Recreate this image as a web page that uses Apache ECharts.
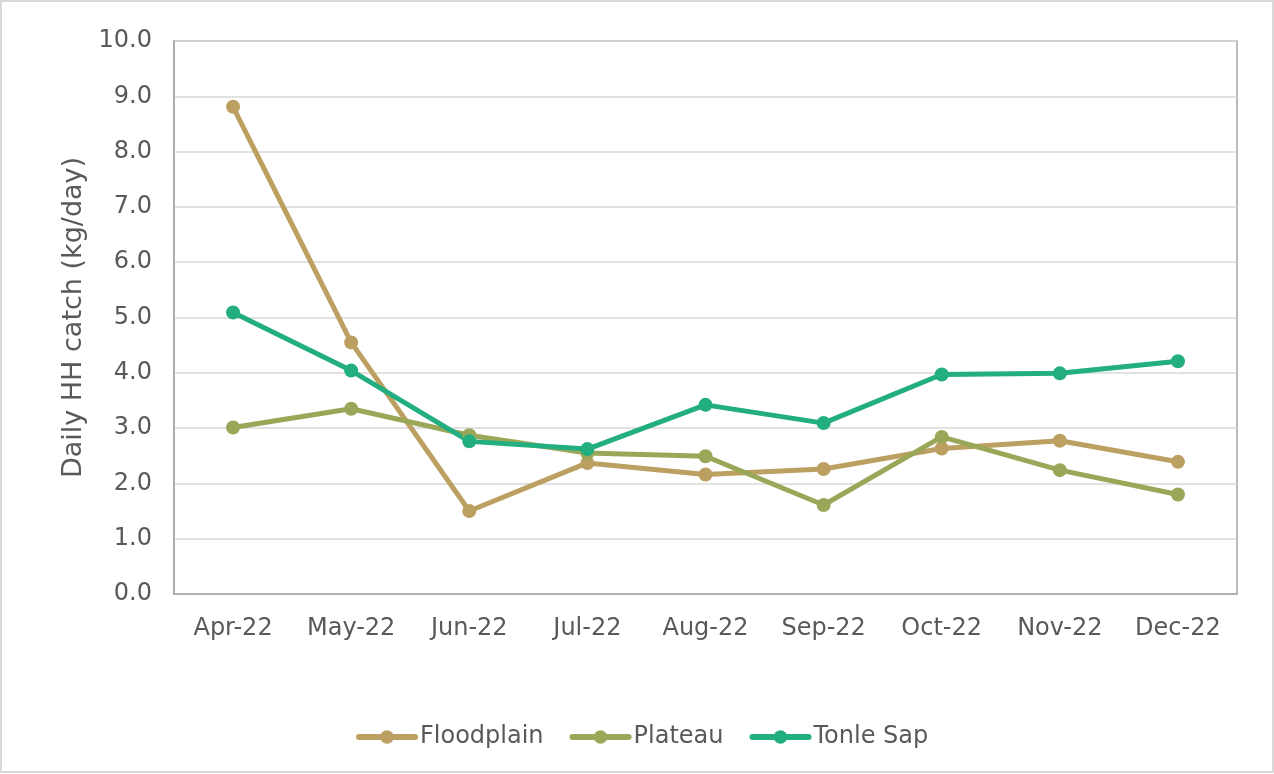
<!DOCTYPE html>
<html>
<head>
<meta charset="utf-8">
<script src="https://cdn.jsdelivr.net/npm/echarts@6/dist/echarts.min.js"></script>
<style>
  html, body { margin: 0; padding: 0; background: #fff; }
  #chart { width: 1274px; height: 774px; }
</style>
</head>
<body>
<div id="chart"></div>
<script>
// Monthly daily household catch by zone (kg/day)
const months = ['Apr-22', 'May-22', 'Jun-22', 'Jul-22', 'Aug-22', 'Sep-22', 'Oct-22', 'Nov-22', 'Dec-22'];
const floodplain = [8.81, 4.55, 1.50, 2.37, 2.16, 2.26, 2.63, 2.77, 2.39];
const plateau    = [3.01, 3.35, 2.87, 2.55, 2.49, 1.61, 2.84, 2.24, 1.80];
const tonleSap   = [5.09, 4.04, 2.76, 2.62, 3.42, 3.09, 3.97, 3.99, 4.21];
const seriesNames = ['Floodplain', 'Plateau', 'Tonle Sap'];
const seriesColors = ['#BBA062', '#9BA758', '#22AE80'];

const FONT = 'DejaVu Sans, Verdana, sans-serif';
const TEXT = '#595959';

const chart = echarts.init(document.getElementById('chart'), null, { renderer: 'canvas' });

const makeSeries = (name, data, color) => ({
  name: name,
  type: 'line',
  data: data,
  symbol: 'circle',
  symbolSize: 14,
  lineStyle: { width: 5, color: color, cap: 'round', join: 'round' },
  itemStyle: { color: color },
  emphasis: { disabled: true },
  animation: false
});

chart.setOption({
  backgroundColor: '#fff',
  animation: false,
  graphic: [{
    type: 'rect',
    shape: { x: 1, y: 1, width: 1272, height: 771 },
    style: { fill: 'none', stroke: '#D9D9D9', lineWidth: 2 },
    silent: true
  }],
  grid: {
    left: 174, right: 37, top: 41, bottom: 180,
    show: true, borderColor: '#A6A6A6', borderWidth: 1.5, backgroundColor: 'transparent'
  },
  legend: {
    data: seriesNames,
    bottom: 20,
    left: 351,
    itemWidth: 56,
    itemHeight: 17,
    itemGap: 26,
    lineStyle: { width: 6, cap: 'round' },
    textStyle: { fontFamily: FONT, fontSize: 24, color: TEXT }
  },
  xAxis: {
    type: 'category',
    data: months,
    boundaryGap: true,
    axisLine: { show: true, lineStyle: { color: '#A6A6A6', width: 1.5 } },
    axisTick: { show: false },
    axisLabel: { fontFamily: FONT, fontSize: 24, color: TEXT, margin: 23, interval: 0 },
    splitLine: { show: false }
  },
  yAxis: {
    type: 'value',
    min: 0, max: 10, interval: 1,
    name: 'Daily HH catch (kg/day)',
    nameLocation: 'middle',
    nameGap: 84,
    nameTextStyle: { fontFamily: FONT, fontSize: 27, color: TEXT },
    axisLine: { show: true, lineStyle: { color: '#A6A6A6', width: 1.5 } },
    axisTick: { show: false },
    axisLabel: {
      fontFamily: FONT, fontSize: 24, color: TEXT, margin: 22,
      formatter: v => v.toFixed(1)
    },
    splitLine: { show: true, lineStyle: { color: '#D9D9D9', width: 1.5 } }
  },
  series: [
    makeSeries(seriesNames[0], floodplain, seriesColors[0]),
    makeSeries(seriesNames[1], plateau, seriesColors[1]),
    makeSeries(seriesNames[2], tonleSap, seriesColors[2])
  ]
});
</script>
</body>
</html>
